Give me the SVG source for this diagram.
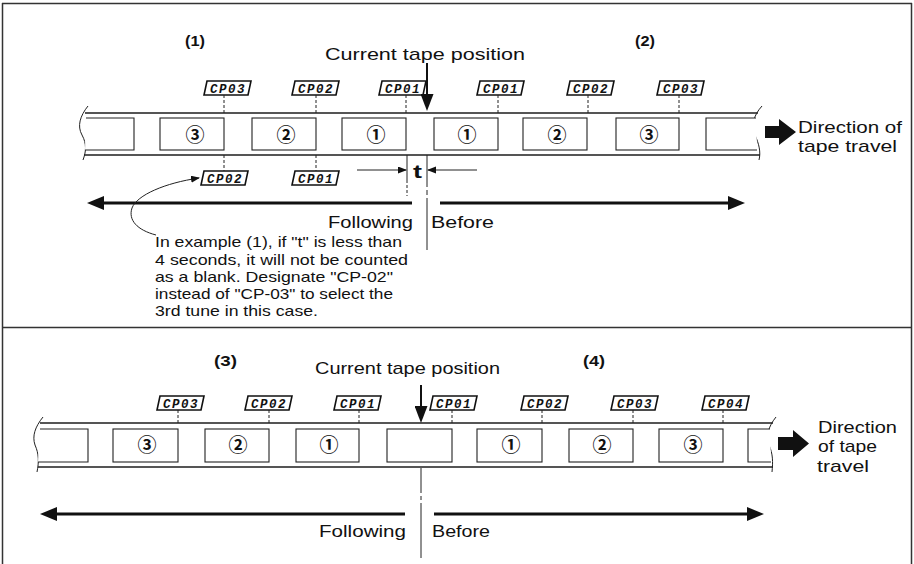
<svg xmlns="http://www.w3.org/2000/svg" width="914" height="564" viewBox="0 0 914 564">
<style>
text{font-family:"Liberation Sans",Arial,Helvetica,sans-serif;fill:#111;}
.lbl{font-size:17px;}
.par{font-size:14.5px;}
.hd{font-size:15px;font-weight:bold;}
.tt{font-size:19px;font-weight:bold;}
.frame{fill:#fff;stroke:#222;stroke-width:1.1;}
.edge{stroke:#555;stroke-width:2;fill:none;}
.wave{stroke:#222;stroke-width:1;fill:none;}
.dash{stroke:#222;stroke-width:1;stroke-dasharray:3 2;fill:none;}
.thin{stroke:#222;stroke-width:1;fill:none;}
.thick{stroke:#111;stroke-width:3;fill:none;}
.pos{stroke:#111;stroke-width:2;fill:none;}
.cpbox{fill:#fff;stroke:#111;stroke-width:1.6;}
.cp{font-family:"Liberation Mono","DejaVu Sans Mono",monospace;font-style:italic;font-weight:bold;font-size:12.5px;text-anchor:middle;letter-spacing:1.5px;}
.num{font-family:"Noto Sans CJK JP","DejaVu Sans",sans-serif;font-size:19px;font-weight:bold;text-anchor:middle;}
.blk{fill:#111;}
.border{stroke:#333;stroke-width:1.5;fill:none;}
</style>
<defs>
<marker id="bigHead" markerUnits="userSpaceOnUse" markerWidth="18" markerHeight="14" refX="5" refY="7" orient="auto"><path d="M0,0 L17,7 L0,14 z" fill="#111"/></marker>
<marker id="posHead" markerUnits="userSpaceOnUse" markerWidth="18" markerHeight="13" refX="3" refY="6.5" orient="auto"><path d="M0,0 L17,6.5 L0,13 z" fill="#111"/></marker>
<marker id="smallHead" markerUnits="userSpaceOnUse" markerWidth="10" markerHeight="8" refX="8" refY="3.5" orient="auto"><path d="M0,0 L9,3.5 L0,7 z" fill="#111"/></marker>
<g id="cpshape"><polygon points="3,0 47,0 44,14 0,14"/></g>
</defs>

<!-- border -->
<g id="border">
<line class="border" x1="2" y1="3.5" x2="912" y2="3.5"/>
<line class="border" x1="2.5" y1="3" x2="2.5" y2="564"/>
<line class="border" x1="911.5" y1="3" x2="911.5" y2="564"/>
<line class="border" x1="2" y1="327.5" x2="912" y2="327.5"/>
</g>

<!-- ===== TOP PANEL ===== -->
<g id="tape-top">
<line class="edge" x1="85" y1="113" x2="758" y2="113"/>
<line class="edge" x1="84" y1="155" x2="760" y2="155"/>
<path class="wave" d="M88,106 C80,116 77,126 82,135 C87,144 86,152 83,160"/>
<path class="wave" d="M762,106 C753,116 751,126 755,135 C759,144 761,152 759,160"/>
<path class="frame" d="M86,118 H134 V150 H85" fill="none"/>
<path class="frame" d="M756,118 H706 V150 H757" fill="none"/>
</g>
<g id="frame-t3a"><rect class="frame" x="160" y="118" width="64" height="32"/><text class="num" x="195" y="141.5">③</text></g>
<g id="frame-t2a"><rect class="frame" x="252" y="118" width="64" height="32"/><text class="num" x="286" y="141.5">②</text></g>
<g id="frame-t1a"><rect class="frame" x="342" y="118" width="64" height="32"/><text class="num" x="376" y="141.5">①</text></g>
<g id="frame-t1b"><rect class="frame" x="434" y="118" width="64" height="32"/><text class="num" x="467" y="141.5">①</text></g>
<g id="frame-t2b"><rect class="frame" x="523" y="118" width="64" height="32"/><text class="num" x="557" y="141.5">②</text></g>
<g id="frame-t3b"><rect class="frame" x="616" y="118" width="63" height="32"/><text class="num" x="649" y="141.5">③</text></g>

<g id="cp-t-03a" transform="translate(204,81)"><use href="#cpshape" class="cpbox"/><text class="cp" x="24" y="11.5">CP03</text></g>
<g id="cp-t-02a" transform="translate(292,81)"><use href="#cpshape" class="cpbox"/><text class="cp" x="24" y="11.5">CP02</text></g>
<g id="cp-t-01a" transform="translate(379,81)"><use href="#cpshape" class="cpbox"/><text class="cp" x="24" y="11.5">CP01</text></g>
<g id="cp-t-01b" transform="translate(477,81)"><use href="#cpshape" class="cpbox"/><text class="cp" x="24" y="11.5">CP01</text></g>
<g id="cp-t-02b" transform="translate(567,81)"><use href="#cpshape" class="cpbox"/><text class="cp" x="24" y="11.5">CP02</text></g>
<g id="cp-t-03b" transform="translate(657,81)"><use href="#cpshape" class="cpbox"/><text class="cp" x="24" y="11.5">CP03</text></g>
<g id="cp-t-02c" transform="translate(201,171)"><use href="#cpshape" class="cpbox"/><text class="cp" x="24" y="11.5">CP02</text></g>
<g id="cp-t-01c" transform="translate(292,171)"><use href="#cpshape" class="cpbox"/><text class="cp" x="24" y="11.5">CP01</text></g>

<g id="texts-top">
<text class="hd" x="185" y="46" textLength="20" lengthAdjust="spacingAndGlyphs">(1)</text>
<text class="hd" x="635" y="46" textLength="20" lengthAdjust="spacingAndGlyphs">(2)</text>
<text class="lbl" x="325" y="60" textLength="200" lengthAdjust="spacingAndGlyphs">Current tape position</text>
<text class="lbl" x="798" y="133" font-size="18" textLength="104" lengthAdjust="spacingAndGlyphs">Direction of</text>
<text class="lbl" x="798" y="152" font-size="18" textLength="99" lengthAdjust="spacingAndGlyphs">tape travel</text>
<text class="tt" x="413" y="178" textLength="9" lengthAdjust="spacingAndGlyphs">t</text>
<text class="lbl" x="328" y="228" font-size="18" textLength="85" lengthAdjust="spacingAndGlyphs">Following</text>
<text class="lbl" x="431" y="228" font-size="18" textLength="63" lengthAdjust="spacingAndGlyphs">Before</text>
<text class="par" x="155" y="247" textLength="247" lengthAdjust="spacingAndGlyphs">In example (1), if "t" is less than</text>
<text class="par" x="155" y="264.5" textLength="253" lengthAdjust="spacingAndGlyphs">4 seconds, it will not be counted</text>
<text class="par" x="155" y="281.5" textLength="238" lengthAdjust="spacingAndGlyphs">as a blank. Designate "CP-02"</text>
<text class="par" x="155" y="298.5" textLength="238" lengthAdjust="spacingAndGlyphs">instead of "CP-03" to select the</text>
<text class="par" x="155" y="316" textLength="163" lengthAdjust="spacingAndGlyphs">3rd tune in this case.</text>
</g>

<!-- ===== BOTTOM PANEL ===== -->
<g id="tape-bottom">
<line class="edge" x1="40" y1="423" x2="773" y2="423"/>
<line class="edge" x1="38" y1="467" x2="773" y2="467"/>
<path class="wave" d="M43,417 C35,427 32,436 35,445 C39,454 39,462 37,472"/>
<path class="wave" d="M776,417 C768,427 766,436 769,445 C773,454 773,462 772,472"/>
<path class="frame" d="M40,429 H88 V462 H38" fill="none"/>
<path class="frame" d="M770,429 H748 V462 H771" fill="none"/>
</g>
<g id="frame-b3a"><rect class="frame" x="113" y="429" width="65" height="33"/><text class="num" x="147" y="451.5">③</text></g>
<g id="frame-b2a"><rect class="frame" x="205" y="429" width="64" height="33"/><text class="num" x="238" y="451.5">②</text></g>
<g id="frame-b1a"><rect class="frame" x="296" y="429" width="63" height="33"/><text class="num" x="329" y="451.5">①</text></g>
<g id="frame-b0"><rect class="frame" x="387" y="429" width="65" height="33"/></g>
<g id="frame-b1b"><rect class="frame" x="477" y="429" width="65" height="33"/><text class="num" x="511" y="451.5">①</text></g>
<g id="frame-b2b"><rect class="frame" x="569" y="429" width="64" height="33"/><text class="num" x="602" y="451.5">②</text></g>
<g id="frame-b3b"><rect class="frame" x="659" y="429" width="64" height="33"/><text class="num" x="693" y="451.5">③</text></g>

<g id="cp-b-03a" transform="translate(157,396)"><use href="#cpshape" class="cpbox"/><text class="cp" x="24" y="11.5">CP03</text></g>
<g id="cp-b-02a" transform="translate(245,396)"><use href="#cpshape" class="cpbox"/><text class="cp" x="24" y="11.5">CP02</text></g>
<g id="cp-b-01a" transform="translate(334,396)"><use href="#cpshape" class="cpbox"/><text class="cp" x="24" y="11.5">CP01</text></g>
<g id="cp-b-01b" transform="translate(430,396)"><use href="#cpshape" class="cpbox"/><text class="cp" x="24" y="11.5">CP01</text></g>
<g id="cp-b-02b" transform="translate(521,396)"><use href="#cpshape" class="cpbox"/><text class="cp" x="24" y="11.5">CP02</text></g>
<g id="cp-b-03b" transform="translate(611,396)"><use href="#cpshape" class="cpbox"/><text class="cp" x="24" y="11.5">CP03</text></g>
<g id="cp-b-04" transform="translate(702,396)"><use href="#cpshape" class="cpbox"/><text class="cp" x="24" y="11.5">CP04</text></g>

<g id="texts-bottom">
<text class="hd" x="214" y="366" textLength="23" lengthAdjust="spacingAndGlyphs">(3)</text>
<text class="hd" x="583" y="366" textLength="22" lengthAdjust="spacingAndGlyphs">(4)</text>
<text class="lbl" x="315" y="374" textLength="185" lengthAdjust="spacingAndGlyphs">Current tape position</text>
<text class="lbl" x="818" y="433" font-size="18" textLength="79" lengthAdjust="spacingAndGlyphs">Direction</text>
<text class="lbl" x="818" y="452" font-size="18" textLength="59" lengthAdjust="spacingAndGlyphs">of tape</text>
<text class="lbl" x="817" y="472" font-size="18" textLength="52" lengthAdjust="spacingAndGlyphs">travel</text>
<text class="lbl" x="319" y="537" font-size="18" textLength="87" lengthAdjust="spacingAndGlyphs">Following</text>
<text class="lbl" x="432" y="537" font-size="18" textLength="58" lengthAdjust="spacingAndGlyphs">Before</text>
</g>

<!-- ===== CONNECTORS ===== -->
<g id="connectors">
<line class="dash" x1="224" y1="95" x2="224" y2="113"/>
<line class="dash" x1="316" y1="95" x2="316" y2="113"/>
<line class="dash" x1="406" y1="95" x2="406" y2="113"/>
<line class="dash" x1="498" y1="95" x2="498" y2="113"/>
<line class="dash" x1="588" y1="95" x2="588" y2="113"/>
<line class="dash" x1="679" y1="95" x2="679" y2="113"/>
<line class="dash" x1="224" y1="155" x2="224" y2="171"/>
<line class="dash" x1="316" y1="155" x2="316" y2="171"/>
<line class="thin" x1="407" y1="155" x2="407" y2="180"/>
<line class="dash" x1="407" y1="180" x2="407" y2="196"/>
<line class="thin" x1="357" y1="170" x2="406" y2="170" marker-end="url(#smallHead)"/>
<line class="thin" x1="477" y1="170" x2="428" y2="170" marker-end="url(#smallHead)"/>
<line class="pos" x1="427" y1="63" x2="427" y2="97" marker-end="url(#posHead)"/>
<line class="thin" x1="427" y1="155" x2="427" y2="187"/>
<line class="thin" x1="427" y1="190" x2="427" y2="195"/>
<line class="thin" x1="427" y1="198" x2="427" y2="250"/>
<line class="thick" x1="412" y1="203" x2="99" y2="203" marker-end="url(#bigHead)"/>
<line class="thick" x1="440" y1="203" x2="733" y2="203" marker-end="url(#bigHead)"/>
<path class="thin" d="M156,235 C137,230 128,220 132,208 C137,195 165,183 199,178" marker-end="url(#smallHead)"/>
<polygon class="blk" points="765,126 779,126 779,119 796,132 779,145 779,138 765,138"/>

<line class="dash" x1="178" y1="410" x2="178" y2="423"/>
<line class="dash" x1="269" y1="410" x2="269" y2="423"/>
<line class="dash" x1="359" y1="410" x2="359" y2="423"/>
<line class="dash" x1="452" y1="410" x2="452" y2="423"/>
<line class="dash" x1="542" y1="410" x2="542" y2="423"/>
<line class="dash" x1="633" y1="410" x2="633" y2="423"/>
<line class="dash" x1="723" y1="410" x2="723" y2="423"/>
<line class="pos" x1="421" y1="385" x2="421" y2="409" marker-end="url(#posHead)"/>
<line class="thin" x1="421" y1="468" x2="421" y2="493"/>
<line class="thin" x1="421" y1="496" x2="421" y2="500"/>
<line class="thin" x1="421" y1="503" x2="421" y2="558"/>
<line class="thick" x1="405" y1="514" x2="52" y2="514" marker-end="url(#bigHead)"/>
<line class="thick" x1="434" y1="514" x2="752" y2="514" marker-end="url(#bigHead)"/>
<polygon class="blk" points="778,437 793,437 793,430 809,443.5 793,457 793,450 778,450"/>
</g>
</svg>
